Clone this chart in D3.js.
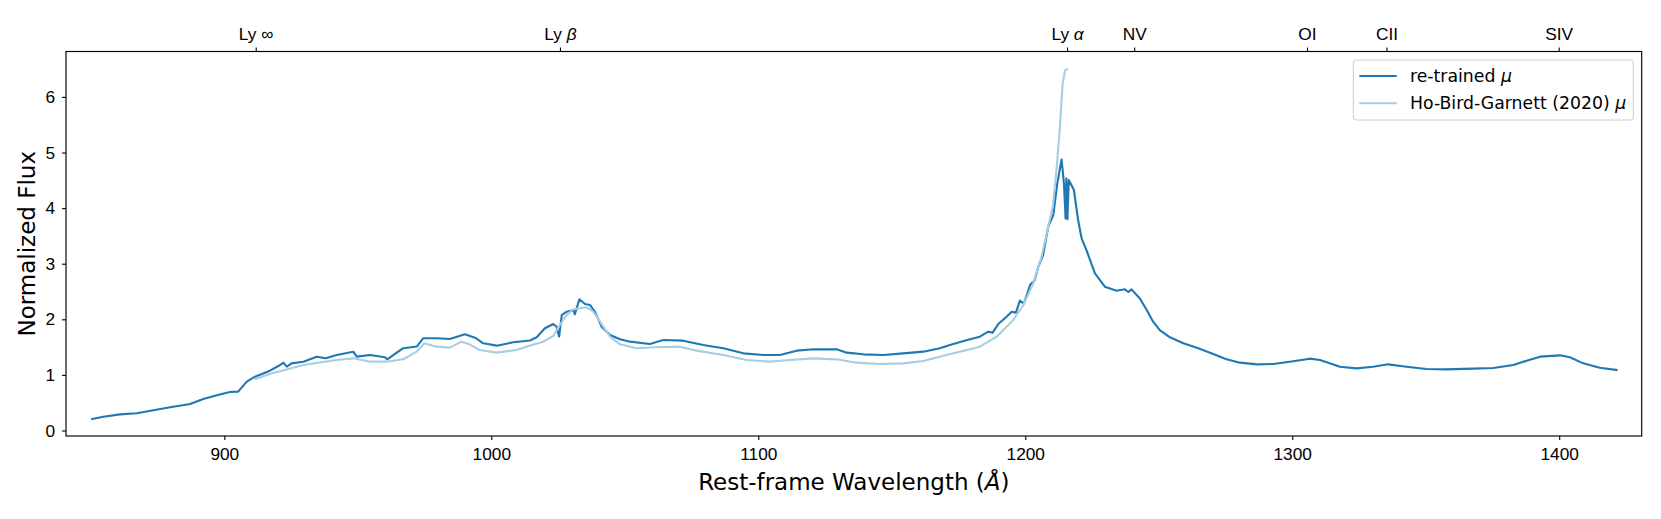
<!DOCTYPE html>
<html>
<head>
<meta charset="utf-8">
<script src="https://cdn.jsdelivr.net/npm/d3@7"></script>
<style>
  body { margin: 0; background: #fff; }
  svg { font-family: "DejaVu Sans", sans-serif; }
  .tick text { fill: #000; }
</style>
</head>
<body>
<svg id="chart" width="1661" height="519"></svg>
<script>
// rest-frame wavelength (Å) and flux of the re-trained mean
const waveRetrained = [
  850.5, 854.7, 860.9, 867.2, 873.4, 879.7, 887.2, 892.1, 897.2, 902.1,
  905.2, 908.4, 911.5, 917.1, 920.9, 922.1, 923.4, 925.2, 929.6, 934.6,
  938.0, 942.1, 948.3, 949.6, 954.6, 960.2, 961.0, 967.0, 972.1, 974.5,
  979.5, 984.5, 990.1, 993.9, 997.0, 1002.0, 1008.2, 1014.5, 1017.0, 1020.1,
  1023.2, 1024.4, 1025.4, 1026.4, 1028.2, 1030.7, 1031.3, 1033.0, 1035.1, 1037.0,
  1038.8, 1041.3, 1044.5, 1048.2, 1052.0, 1059.4, 1064.4, 1071.9, 1079.4, 1086.9,
  1094.4, 1101.9, 1108.1, 1114.4, 1120.6, 1129.4, 1133.1, 1139.3, 1146.8, 1154.3,
  1161.8, 1168.0, 1173.0, 1179.3, 1183.0, 1186.1, 1187.8, 1189.9, 1193.0, 1194.9,
  1196.5, 1198.0, 1199.5, 1201.8, 1203.5, 1204.9, 1206.7, 1208.6, 1210.5, 1212.0,
  1213.6, 1214.5, 1215.1, 1215.4, 1215.8, 1216.3, 1218.2, 1219.8, 1221.1, 1222.9,
  1226.1, 1229.8, 1234.2, 1237.3, 1238.6, 1239.8, 1243.0, 1245.5, 1247.9, 1250.4,
  1254.2, 1259.2, 1264.8, 1269.2, 1275.4, 1280.4, 1286.7, 1292.9, 1299.1, 1306.6,
  1310.4, 1317.9, 1324.1, 1330.3, 1336.0, 1342.8, 1350.3, 1357.8, 1367.8, 1375.3,
  1382.8, 1387.8, 1392.8, 1400.3, 1404.0, 1409.0, 1415.2, 1421.5
];
const fluxRetrained = [
  0.207, 0.248, 0.290, 0.309, 0.365, 0.417, 0.477, 0.567, 0.633, 0.693,
  0.699, 0.878, 0.968, 1.076, 1.178, 1.219, 1.148, 1.208, 1.238, 1.328,
  1.300, 1.358, 1.418, 1.328, 1.358, 1.316, 1.280, 1.480, 1.510, 1.660,
  1.660, 1.647, 1.731, 1.670, 1.568, 1.526, 1.586, 1.620, 1.676, 1.840,
  1.916, 1.870, 1.690, 2.077, 2.137, 2.167, 2.090, 2.360, 2.275, 2.257,
  2.137, 1.868, 1.718, 1.640, 1.598, 1.556, 1.628, 1.616, 1.538, 1.478,
  1.388, 1.358, 1.358, 1.436, 1.460, 1.460, 1.400, 1.370, 1.358, 1.388,
  1.418, 1.478, 1.556, 1.640, 1.687, 1.777, 1.760, 1.915, 2.047, 2.137,
  2.120, 2.335, 2.280, 2.617, 2.700, 2.946, 3.157, 3.666, 3.875, 4.445,
  4.875, 4.445, 3.815, 4.535, 3.800, 4.505, 4.330, 3.786, 3.457, 3.247,
  2.827, 2.587, 2.515, 2.539, 2.491, 2.539, 2.370, 2.167, 1.957, 1.807,
  1.676, 1.568, 1.478, 1.400, 1.280, 1.220, 1.190, 1.196, 1.238, 1.292,
  1.268, 1.148, 1.118, 1.148, 1.190, 1.148, 1.106, 1.100, 1.112, 1.124,
  1.178, 1.256, 1.328, 1.352, 1.316, 1.208, 1.130, 1.088
];

// Ho-Bird-Garnett (2020) mean, Lyman limit to Ly alpha
const waveHBG = [
  911.8, 917.0, 929.6, 942.0, 948.3, 954.6, 960.8, 967.0, 972.0, 975.0,
  979.5, 984.5, 988.8, 991.9, 995.6, 1002.0, 1009.4, 1014.5, 1019.5, 1023.2,
  1025.7, 1028.2, 1030.7, 1035.7, 1038.2, 1040.7, 1044.5, 1048.2, 1054.5, 1062.0,
  1070.7, 1076.9, 1086.9, 1095.7, 1104.4, 1111.9, 1120.6, 1129.4, 1136.8, 1145.6,
  1154.3, 1161.8, 1170.5, 1179.3, 1183.0, 1189.3, 1195.5, 1199.3, 1203.0, 1206.1,
  1208.6, 1210.3, 1211.7, 1213.0, 1214.0, 1214.9, 1215.7
];
const fluxHBG = [
  0.930, 1.016, 1.178, 1.268, 1.298, 1.238, 1.238, 1.280, 1.418, 1.568,
  1.508, 1.490, 1.598, 1.550, 1.448, 1.400, 1.448, 1.530, 1.598, 1.700,
  1.898, 2.077, 2.180, 2.216, 2.137, 1.958, 1.688, 1.550, 1.478, 1.496,
  1.508, 1.436, 1.358, 1.268, 1.238, 1.268, 1.298, 1.280, 1.220, 1.196,
  1.208, 1.250, 1.358, 1.460, 1.507, 1.687, 1.987, 2.257, 2.647, 3.127,
  3.666, 4.025, 4.685, 5.464, 6.245, 6.470, 6.500
];

// emission lines on the top axis
const lineWaves = [911.76, 1025.72, 1215.67, 1240.81, 1305.53, 1335.31, 1399.8];
const lineNames = ["Ly ∞", "Ly β", "Ly α", "NV", "OI", "CII", "SIV"];

const xTicks = [900, 1000, 1100, 1200, 1300, 1400];
const yTicks = [0, 1, 2, 3, 4, 5, 6];
const seriesNames = ["re-trained μ", "Ho-Bird-Garnett (2020) μ"];
const seriesColors = ["#1f78b4", "#a6cee3"];

const svg = d3.select("#chart");
const margin = { top: 51.5, right: 19.3, bottom: 83, left: 66 };
const width = 1661 - margin.left - margin.right;
const height = 519 - margin.top - margin.bottom;

const g = svg.append("g")
    .attr("transform", `translate(${margin.left},${margin.top})`);

const x = d3.scaleLinear().domain([840.7, 1430.9]).range([0, width]);
const y = d3.scaleLinear().domain([-0.099, 6.817]).range([height, 0]);

function styleAxis(sel) {
  sel.select(".domain").remove();
  sel.selectAll(".tick line").attr("stroke", "#000").attr("stroke-width", 1.1);
  sel.selectAll(".tick text").attr("font-size", 17.3);
}

// put greek letters in italic, like mathtext
function mathText(sel) {
  sel.each(function () {
    const t = d3.select(this);
    const s = t.text();
    t.text(null);
    s.split(/([αβμ])/).filter(p => p !== "").forEach(p => {
      const span = t.append("tspan").text(p);
      if (/[αβμ]/.test(p)) span.attr("font-style", "italic");
    });
  });
}

g.append("g")
    .attr("transform", `translate(0,${height})`)
    .call(d3.axisBottom(x).tickValues(xTicks)
      .tickSize(4).tickPadding(7.5).tickSizeOuter(0).tickFormat(d3.format("d")))
    .call(styleAxis);

g.append("g")
    .call(d3.axisLeft(y).tickValues(yTicks)
      .tickSize(4).tickPadding(7).tickSizeOuter(0).tickFormat(d3.format("d")))
    .call(styleAxis);

g.append("g")
    .call(d3.axisTop(x).tickValues(lineWaves)
      .tickSize(4).tickPadding(8).tickSizeOuter(0).tickFormat((d, i) => lineNames[i]))
    .call(styleAxis)
    .selectAll(".tick text").call(mathText);

// spectra
const line = d3.line()
    .x(d => x(d[0]))
    .y(d => y(d[1]));

const series = [
  d3.zip(waveRetrained, fluxRetrained),
  d3.zip(waveHBG, fluxHBG)
];

g.selectAll(".spec")
    .data(series)
  .enter().append("path")
    .attr("class", "spec")
    .attr("d", line)
    .attr("fill", "none")
    .attr("stroke", (d, i) => seriesColors[i])
    .attr("stroke-width", 2.1)
    .attr("stroke-linejoin", "round")
    .attr("stroke-linecap", "square");

// frame
g.append("rect")
    .attr("width", width)
    .attr("height", height)
    .attr("fill", "none")
    .attr("stroke", "#000")
    .attr("stroke-width", 1.15);

// legend
const legend = g.append("g")
    .attr("transform", `translate(${width - 288.4},8.5)`);

legend.append("rect")
    .attr("width", 280)
    .attr("height", 60)
    .attr("rx", 3)
    .attr("fill", "#fff")
    .attr("fill-opacity", 0.8)
    .attr("stroke", "#cccccc")
    .attr("stroke-width", 1);

const item = legend.selectAll(".item")
    .data(seriesNames)
  .enter().append("g")
    .attr("class", "item")
    .attr("transform", (d, i) => `translate(6,${16 + i * 27.3})`);

item.append("line")
    .attr("x1", 0)
    .attr("x2", 37.4)
    .attr("stroke", (d, i) => seriesColors[i])
    .attr("stroke-width", 2.1);

item.append("text")
    .attr("x", 50.7)
    .attr("dy", "0.35em")
    .attr("font-size", 17.3)
    .text(d => d)
    .call(mathText);

// axis labels
const xLabel = svg.append("text")
    .attr("x", margin.left + width / 2)
    .attr("y", 490)
    .attr("text-anchor", "middle")
    .attr("font-size", 23);
xLabel.append("tspan").text("Rest-frame Wavelength (");
xLabel.append("tspan").attr("font-style", "italic").text("Å");
xLabel.append("tspan").text(")");

svg.append("text")
    .attr("transform", `translate(35,${margin.top + height / 2}) rotate(-90)`)
    .attr("text-anchor", "middle")
    .attr("font-size", 23)
    .text("Normalized Flux");
</script>
</body>
</html>
